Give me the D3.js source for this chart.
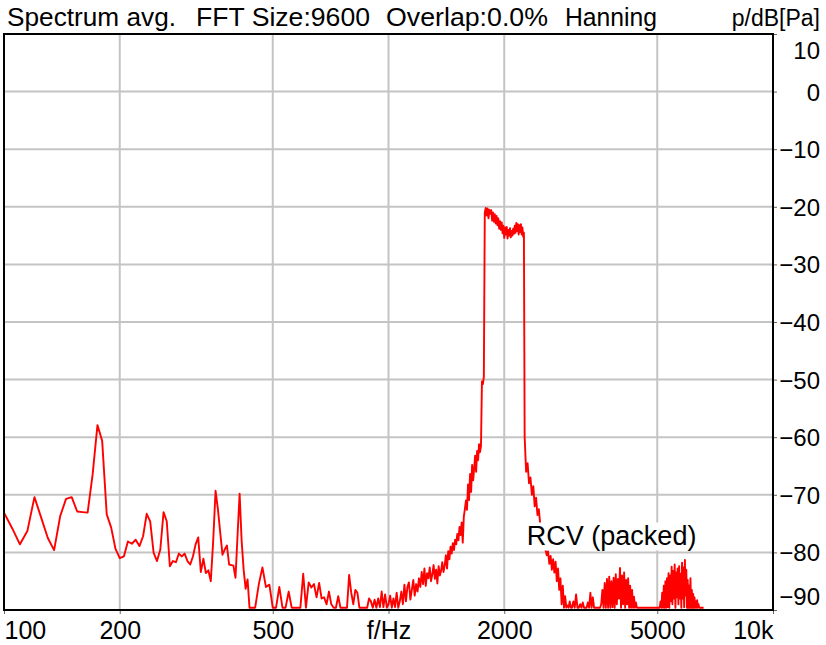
<!DOCTYPE html>
<html>
<head>
<meta charset="utf-8">
<script src="https://cdn.jsdelivr.net/npm/d3@7"></script>
<style>
  body { margin: 0; background: #fff; }
  text { font-family: "Liberation Sans", Arial, sans-serif; fill: #000; }
</style>
</head>
<body>
<svg id="chart" width="826" height="645"></svg>
<script>
// spectrum, one array per FFT stretch (bin grid = start + i*step)
const startHz = [100, 440, 1000, 1780, 2260, 3000];
const stepHz = [5, 10, 10, 10, 20, 25];

const dbLow = [
  -73.1, -75.8, -78.6, -76.3, -70.4, -74, -77.5, -79.6, -73.7, -70.7,
  -70.4, -72.9, -73, -73.1, -66.5, -57.9, -60.6, -73.4, -75.7, -79.4,
  -81, -80.7, -78.1, -78.5, -77.8, -78.9, -77.2, -73.3, -74.6, -80.1,
  -81.5, -79.5, -73, -74.6, -82.4, -81.5, -81.7, -80.2, -80.7, -80.2,
  -81.5, -82.1, -80.7, -78.6, -77.4, -83.4, -81.1, -83.6, -83.1, -85,
  -78, -69.3, -72.5, -76.5, -80.4, -79.5, -78.8, -82.1, -82.2, -82.3,
  -84.4, -77, -69.8, -78, -83, -86.3, -84.7, -89.6
];
const dbMid = [
  -92, -92, -85.5, -82.6, -86, -85.6, -92, -92, -86, -92,
  -92, -86.8, -92, -92, -92, -92, -83.7, -92, -85.2, -86.1,
  -85.5, -87.8, -85.3, -88, -87.8, -89, -86.8, -89, -92, -92,
  -87.6, -92, -92, -92, -92, -83.9, -87, -89, -86.5, -87,
  -92, -92, -92, -92, -92, -88, -88.5, -90.5, -88.2, -91,
  -88, -89.5, -86.8, -89.5, -87.3, -90
];
const dbRise = [
  -89, -87.5, -90, -88, -89.5, -87, -91, -88.5, -86.8, -89,
  -85.6, -88.5, -86, -85.2, -88.2, -86.5, -84.8, -87.5, -85.5, -86.8,
  -84.5, -86, -83.4, -85.5, -82.8, -85.8, -83.6, -84.5, -82.6, -85,
  -83.8, -82.2, -84.6, -83, -85.4, -82.4, -84, -83.2, -81.7, -83.4,
  -82.3, -80.5, -82.8, -79.8, -81.2, -79, -80.2, -78.4, -79.6, -77.8,
  -78.6, -76.8, -77.9, -75.6, -77, -74.8, -78.3, -73.8, -72.5, -71,
  -72.6, -68.2, -70.9, -66.4, -69.5, -64.8, -67.5, -65.5, -63.2, -66,
  -62.4, -64, -61.2, -62.6, -61.5, -50.3, -50.8, -49.5
];
const dbTop = [
  -21, -20.2, -21.5, -20.3, -22, -20.5, -21.2, -20.6, -22.4, -21,
  -22.6, -21.3, -22.9, -21.6, -23.2, -22, -23.8, -22.5, -24, -22.7,
  -24.6, -23.3, -25.4, -23.6, -24.8, -23.5, -25.5, -24, -25, -23.7,
  -25.3, -24.2, -25, -23.8, -24.7, -23.3, -24.5, -22.8, -24.2, -23,
  -24.8, -23.2, -24.4, -23, -24.8, -23.6, -25.2, -24.5
];
const dbFall = [
  -60, -66, -64.5, -68, -67, -70, -68.5, -72, -70.5, -73.5,
  -72.5, -75, -76, -77, -78, -79.5, -80.5, -79.8, -82, -80.6,
  -83, -81.2, -83.5, -81.6, -85, -82.8, -86.5, -84.5, -89, -85.8,
  -92, -87.6, -92, -89.2, -95, -88.5, -95
];
const dbHigh = [
  -95, -88.5, -95, -87.3, -95, -91, -89, -95,
  -88.7, -95, -90, -92, -88.7, -95, -87, -95,
  -87.8, -95, -91, -95, -95, -95, -95, -89,
  -86.5, -92, -85.3, -95, -84.6, -90, -84.2, -93,
  -85, -89.5, -84.4, -91, -83.8, -89, -84.6, -88,
  -82.7, -90, -84, -89, -83.5, -92, -84.8, -89,
  -84.5, -93, -85.8, -90, -86.5, -95, -87.7, -92,
  -88.7, -95, -90.5, -95, -95, -95, -95, -95,
  -95, -95, -95, -95, -95, -95, -95, -95,
  -95, -95, -95, -95, -95, -95, -95, -95,
  -95, -95, -92, -95, -88.5, -95, -87, -93,
  -85.8, -92, -85, -90, -84.5, -89.5, -83.6, -91,
  -84, -88.5, -82.5, -89, -83.2, -88, -82.1, -90,
  -83.5, -87.8, -82.8, -89, -82.4, -88, -83.7, -90.5,
  -81.8, -88, -82.6, -89.5, -81.3, -87.5, -83, -90,
  -84.8, -91, -85.8, -90, -84.5, -93, -86.5, -91,
  -87.2, -95, -87.8, -92, -88.5, -95, -88.3, -95,
  -89, -95, -90.5, -95, -95, -95, -95, -95,
  -95
];

const xTickHz = [100, 200, 500, 1000, 2000, 5000, 10000];
const xTickText = ['100', '200', '500', 'f/Hz', '2000', '5000', '10k'];
const xGridHz = [200, 500, 1000, 2000, 5000];
const yTicks = [10, 0, -10, -20, -30, -40, -50, -60, -70, -80, -90];
const yGrid = [0, -10, -20, -30, -40, -50, -60, -70, -80];
const titleParts = ['Spectrum avg.', 'FFT Size:9600', 'Overlap:0.0%', 'Hanning'];
const titleX = [7, 196, 386, 565];
const titleW = [169, 174, 162, 92];

const pLeft = 4, pRight = 773, pTop = 34, pBottom = 610;

const svg = d3.select('#chart');

const x = d3.scaleLog().domain([100, 10000]).range([pLeft, pRight]);
const y = d3.scaleLinear().domain([-90, 10]).range([pBottom, pTop]);

let points = [];
[dbLow, dbMid, dbRise, dbTop, dbFall, dbHigh].forEach((vals, k) => {
  vals.forEach((v, i) => points.push([startHz[k] + i * stepHz[k], v]));
});

// grid
svg.append('g')
  .selectAll('line')
  .data(xGridHz)
  .join('line')
  .attr('x1', d => x(d)).attr('x2', d => x(d))
  .attr('y1', pTop).attr('y2', pBottom)
  .attr('stroke', '#c4c4c4')
  .attr('stroke-width', 2);

svg.append('g')
  .selectAll('line')
  .data(yGrid)
  .join('line')
  .attr('x1', pLeft).attr('x2', pRight)
  .attr('y1', d => y(d)).attr('y2', d => y(d))
  .attr('stroke', '#c4c4c4')
  .attr('stroke-width', 2);

// trace, anything under the floor sits on the bottom edge
const floorDb = y.domain()[0] + 0.4;
const line = d3.line()
  .x(d => x(d[0]))
  .y(d => y(Math.max(d[1], floorDb)));

svg.append('path')
  .datum(points)
  .attr('d', line)
  .attr('fill', 'none')
  .attr('stroke', '#ff0000')
  .attr('stroke-width', 1.9)
  .attr('stroke-linejoin', 'round');

// label with white box
const lab = svg.append('g');
const labT = lab.append('text')
  .attr('x', x(2290))
  .attr('y', y(-78.8))
  .style('font-size', '27px')
  .text('RCV (packed)');
const bb = labT.node().getBBox();
lab.insert('rect', 'text')
  .attr('x', bb.x - 3).attr('y', bb.y + 1)
  .attr('width', bb.width + 6).attr('height', bb.height - 2)
  .attr('fill', '#fff');

// axes
const yAxis = svg.append('g')
  .attr('transform', `translate(${pRight},0)`)
  .call(d3.axisRight(y).tickValues(yTicks).tickSize(4).tickPadding(43));
yAxis.select('.domain').remove();
yAxis.selectAll('.tick line').attr('stroke', '#666');
yAxis.selectAll('.tick text')
  .attr('text-anchor', 'end')
  .style('font-size', '24px')
  .attr('fill', '#000')
  .attr('font-family', null)
  .attr('dy', d => d === 10 ? '1.0em' : (d === -90 ? '-0.25em' : '0.35em'));

const xAxis = svg.append('g')
  .attr('transform', `translate(0,${pBottom})`)
  .call(d3.axisBottom(x).tickValues(xTickHz).tickSize(4).tickPadding(7)
    .tickFormat((d, i) => xTickText[i]));
xAxis.select('.domain').remove();
xAxis.selectAll('.tick line').attr('stroke', '#666');
xAxis.selectAll('.tick text')
  .style('font-size', '25px')
  .attr('fill', '#000')
  .attr('font-family', null)
  .attr('text-anchor', (d, i) => i === 0 ? 'start' : (i === xTickHz.length - 1 ? 'end' : 'middle'));

svg.append('rect')
  .attr('x', pLeft).attr('y', pTop)
  .attr('width', pRight - pLeft).attr('height', pBottom - pTop)
  .attr('fill', 'none')
  .attr('stroke', '#000')
  .attr('stroke-width', 2);

// title row
svg.append('g')
  .selectAll('text')
  .data(titleParts)
  .join('text')
  .attr('x', (d, i) => titleX[i])
  .attr('y', 26)
  .attr('textLength', (d, i) => titleW[i])
  .attr('lengthAdjust', 'spacingAndGlyphs')
  .style('font-size', '26px')
  .text(d => d);

svg.append('text')
  .attr('x', 820)
  .attr('y', 26)
  .attr('text-anchor', 'end')
  .style('font-size', '23px')
  .text('p/dB[Pa]');
</script>
</body>
</html>
